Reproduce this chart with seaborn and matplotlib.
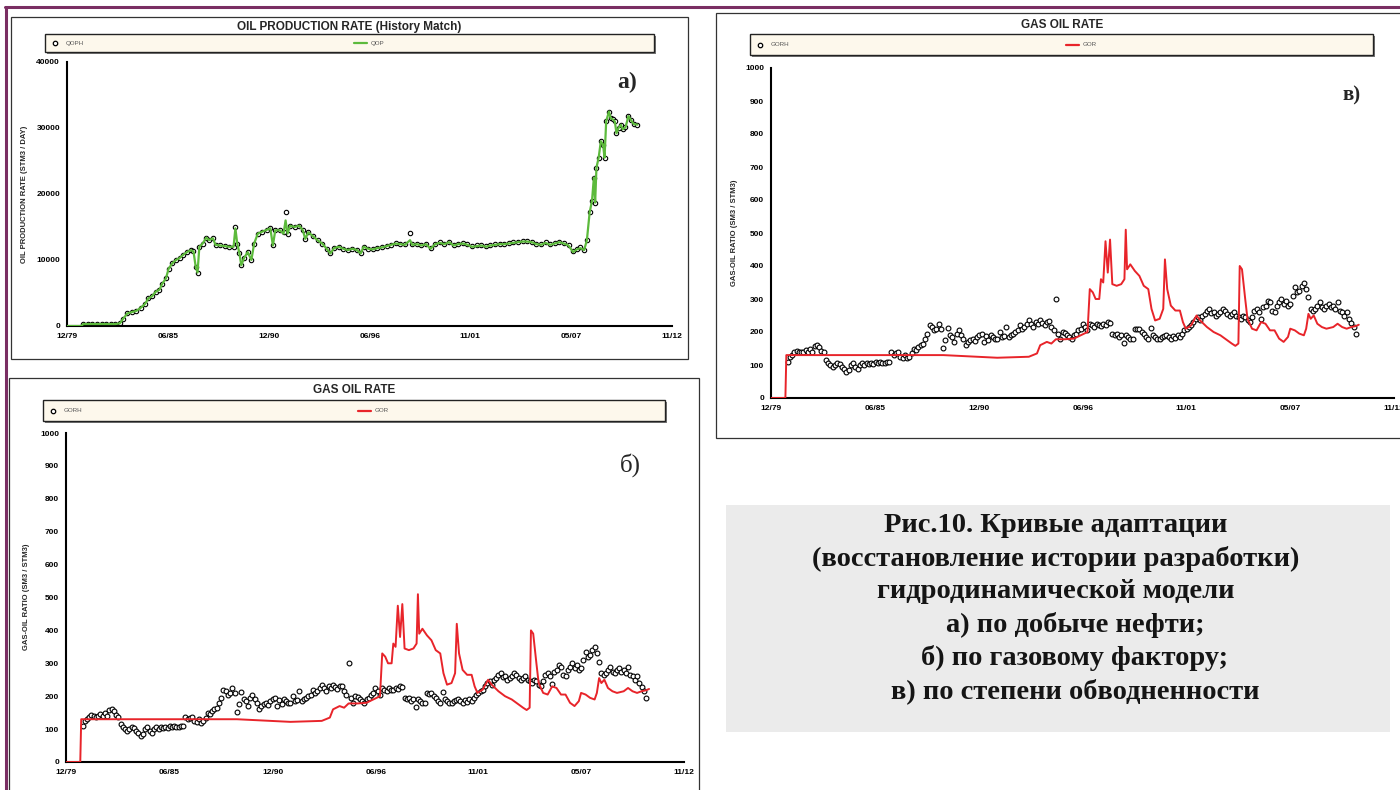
import numpy as np
import matplotlib
matplotlib.use('Agg')
from matplotlib import pyplot as plt
from matplotlib.patches import Rectangle
import seaborn as sns

sns.set_theme(style='white')
plt.rcParams['font.family'] = ['Liberation Sans', 'DejaVu Sans']

W, H = 1400, 790

# общая ось времени (годы)
tick_years = [1979.92, 1985.42, 1990.92, 1996.42, 2001.83, 2007.33, 2012.83]
tick_labels = ['12/79', '06/85', '12/90', '06/96', '11/01', '05/07', '11/12']

# добыча нефти: история (QOPH) и расчёт (QOP)
qop_years = [1979.92, 1980.70, 1980.80, 1981.05, 1981.30, 1981.55, 1981.80, 1982.05, 1982.30, 1982.55,
             1982.80, 1982.95, 1983.20, 1983.45, 1983.70, 1983.95, 1984.15, 1984.35, 1984.55, 1984.75,
             1984.95, 1985.10, 1985.30, 1985.45, 1985.65, 1985.85, 1986.05, 1986.25, 1986.45, 1986.65,
             1986.80, 1986.92, 1987.02, 1987.12, 1987.30, 1987.50, 1987.65, 1987.85, 1988.00, 1988.25,
             1988.50, 1988.75, 1988.98, 1989.08, 1989.18, 1989.30, 1989.40, 1989.55, 1989.75, 1989.95,
             1990.10, 1990.30, 1990.55, 1990.80, 1990.98, 1991.12, 1991.25, 1991.50, 1991.70, 1991.81,
             1991.92, 1992.05, 1992.30, 1992.55, 1992.75, 1992.88, 1993.05, 1993.30, 1993.55, 1993.80,
             1994.05, 1994.25, 1994.45, 1994.70, 1994.95, 1995.20, 1995.45, 1995.70, 1995.90, 1996.05,
             1996.30, 1996.55, 1996.80, 1997.05, 1997.30, 1997.55, 1997.80, 1998.05, 1998.30, 1998.58,
             1998.70, 1998.95, 1999.20, 1999.45, 1999.70, 1999.95, 2000.20, 2000.45, 2000.70, 2000.95,
             2001.20, 2001.45, 2001.70, 2001.95, 2002.20, 2002.45, 2002.70, 2002.95, 2003.20, 2003.45,
             2003.70, 2003.95, 2004.20, 2004.45, 2004.70, 2004.95, 2005.20, 2005.45, 2005.70, 2005.95,
             2006.20, 2006.45, 2006.70, 2006.95, 2007.20, 2007.45, 2007.65, 2007.85, 2008.05, 2008.20,
             2008.35, 2008.48, 2008.58, 2008.65, 2008.72, 2008.84, 2008.96, 2009.08, 2009.16, 2009.25,
             2009.40, 2009.49, 2009.62, 2009.72, 2009.81, 2009.92, 2010.05, 2010.15, 2010.30, 2010.46,
             2010.60, 2010.75, 2010.95]
qoph = [np.nan, np.nan, 300, 300, 300, 300, 300, 300, 300, 300,
        400, 1000, 1900, 2100, 2300, 2800, 3300, 4200, 4500, 5200,
        5500, 6400, 7200, 8700, 9500, 10000, 10300, 10800, 11200, 11500,
        11300, 9000, 8100, 12000, 12500, 13400, 13000, 13300, 12300, 12200,
        12100, 12000, 12000, 15000, 12500, 11000, 9200, 10300, 11200, 10000,
        12500, 14000, 14300, 14600, 14800, 12200, 14500, 14500, 14200, 17300,
        14000, 15200, 15000, 15200, 14500, 13200, 14200, 13600, 13000, 12500,
        11700, 11000, 11800, 12000, 11700, 11500, 11700, 11500, 11000, 12000,
        11700, 11600, 11800, 11900, 12100, 12300, 12600, 12500, 12400, 14100,
        12400, 12500, 12300, 12500, 11800, 12500, 12700, 12500, 12800, 12300,
        12500, 12600, 12400, 12100, 12200, 12300, 12100, 12300, 12400, 12500,
        12500, 12600, 12700, 12800, 12900, 12900, 12800, 12500, 12400, 12700,
        12400, 12600, 12800, 12600, 12300, 11400, 11700, 11900, 11500, 13000,
        17200, 19000, 22500, 18700, 24000, 25500, 28000, 27500, 25500, 31000,
        32500, 31500, 31300, 31000, 29200, 30000, 30500, 29800, 30100, 31800,
        31200, 30600, 30500]
qop = [0, 0, 300, 300, 300, 300, 300, 300, 300, 300,
       400, 1000, 1900, 2100, 2300, 2800, 3300, 4200, 4500, 5200,
       5500, 6400, 7200, 8700, 9500, 10000, 10300, 10800, 11200, 11500,
       11300, 9000, 8100, 12000, 12500, 13400, 13000, 13300, 12300, 12200,
       12100, 12000, 12000, 14800, 12500, 11000, 9200, 10300, 11200, 10000,
       12500, 14000, 14300, 14600, 14800, 12200, 14500, 14500, 14000, 16000,
       14000, 15200, 15000, 15200, 14500, 13200, 14200, 13600, 13000, 12500,
       11700, 11000, 11800, 12000, 11700, 11500, 11700, 11500, 11000, 12000,
       11700, 11600, 11800, 11900, 12100, 12300, 12500, 12400, 12300, 13000,
       12300, 12400, 12200, 12400, 11700, 12400, 12600, 12400, 12700, 12200,
       12400, 12500, 12300, 12000, 12100, 12200, 12000, 12200, 12300, 12400,
       12400, 12500, 12600, 12700, 12800, 12800, 12700, 12400, 12300, 12600,
       12300, 12500, 12700, 12500, 12200, 11200, 11600, 11800, 11500, 13000,
       17200, 19000, 22500, 18700, 24000, 25500, 28000, 27500, 25500, 31000,
       32500, 31500, 31300, 31000, 29200, 30000, 30500, 29800, 30100, 31800,
       31200, 30600, 30500]

# газовый фактор: история (GORH), замеры с 10/80 по 10/10
gorh_start, gorh_end = 1980.80, 2010.81
gorh = [108, 125, 130, 138, 143, 140, 138, 140, 145, 140,
        148, 140, 158, 162, 155, 143, 138, 115, 105, 100,
        95, 100, 105, 102, 95, 88, 80, 85, 100, 105,
        95, 88, 100, 105, 100, 105, 102, 105, 103, 108,
        105, 110, 107, 105, 108, 110, 138, 130, 135, 138,
        125, 122, 130, 120, 125, 135, 150, 145, 155, 160,
        165, 180, 195, 220, 215, 205, 210, 225, 210, 152,
        175, 212, 190, 185, 170, 195, 205, 190, 178, 160,
        170, 175, 180, 172, 185, 190, 195, 170, 188, 175,
        190, 185, 180, 178, 200, 185, 188, 215, 185, 190,
        195, 200, 205, 220, 210, 215, 225, 235, 225, 215,
        230, 225, 235, 228, 222, 230, 232, 215, 205, 300,
        195, 180, 200, 198, 190, 185, 180, 190, 195, 205,
        210, 225, 215, 205, 225, 220, 215, 225, 220, 218,
        225, 222, 230, 228, 195, 190, 195, 185, 190, 168,
        192, 185, 180, 180, 210, 208, 210, 200, 195, 185,
        178, 212, 190, 185, 180, 178, 185, 188, 190, 185,
        180, 188, 182, 190, 185, 195, 205, 210, 215, 220,
        230, 240, 245, 235, 250, 255, 265, 270, 258, 260,
        248, 255, 262, 270, 265, 255, 250, 255, 260, 250,
        245, 240, 250, 245, 235, 230, 245, 265, 270, 260,
        238, 275, 280, 295, 290, 265, 260, 280, 290, 300,
        285, 295, 280, 285, 310, 335, 320, 325, 340, 350,
        330, 305, 270, 265, 270, 280, 290, 275, 270, 280,
        285, 275, 280, 270, 290, 265, 260, 250, 260, 240,
        228, 215, 195]

# газовый фактор: расчёт (GOR)
gor_years = [1979.92, 1980.68, 1980.73, 1989.02, 1991.87, 1993.54, 1993.97, 1994.14, 1994.49, 1994.73,
             1994.97, 1995.45, 1995.92, 1996.28, 1996.64, 1996.76, 1996.92, 1997.07, 1997.26, 1997.35,
             1997.47, 1997.59, 1997.71, 1997.83, 1997.95, 1998.18, 1998.42, 1998.59, 1998.66, 1998.73,
             1998.90, 1999.14, 1999.38, 1999.61, 1999.85, 2000.02, 2000.21, 2000.45, 2000.64, 2000.73,
             2000.85, 2001.04, 2001.28, 2001.52, 2001.68, 2001.83, 2002.11, 2002.40, 2002.59, 2002.95,
             2003.30, 2003.66, 2004.02, 2004.26, 2004.45, 2004.61, 2004.68, 2004.80, 2004.97, 2005.09,
             2005.33, 2005.57, 2005.81, 2006.04, 2006.28, 2006.52, 2006.76, 2007.00, 2007.23, 2007.35,
             2007.59, 2007.83, 2008.07, 2008.19, 2008.31, 2008.43, 2008.59, 2008.78, 2009.02, 2009.26,
             2009.62, 2009.85, 2010.09, 2010.33, 2010.57, 2010.81, 2010.97]
gor = [0, 0, 130, 130, 122, 125, 135, 160, 170, 165,
       178, 178, 180, 190, 200, 330, 320, 300, 300, 360,
       350, 475, 380, 480, 345, 340, 345, 360, 510, 390,
       405, 385, 370, 340, 330, 270, 235, 240, 270, 420,
       330, 280, 265, 265, 230, 210, 220, 250, 235, 215,
       200, 190, 175, 165, 158, 165, 400, 390, 300, 240,
       210, 205, 230, 225, 205, 205, 180, 170, 185, 210,
       205, 195, 190, 210, 255, 240, 250, 225, 215, 210,
       215, 225, 215, 210, 215, 218, 222]

caption = ['Рис.10. Кривые адаптации',
           '(восстановление истории разработки)',
           'гидродинамической модели',
           'а) по добыче нефти;',
           'б) по газовому фактору;',
           'в) по степени обводненности']

GREEN = '#5cba3c'
RED = '#e8242a'
PURPLE = '#7a2e63'
CREAM = '#fdf8ec'

fig = plt.figure(figsize=(14, 7.9), dpi=100)

# фон в пиксельных координатах: рамки, легенды, подписи
bg = fig.add_axes([0, 0, 1, 1])
bg.set_xlim(0, W)
bg.set_ylim(H, 0)
bg.axis('off')


def box(x0, y0, x1, y1, **kw):
    bg.add_patch(Rectangle((x0, y0), x1 - x0, y1 - y0, **kw))


def px_axes(x0, y0, x1, y1):
    ax = fig.add_axes([x0 / W, 1 - y1 / H, (x1 - x0) / W, (y1 - y0) / H])
    ax.set_facecolor('none')
    return ax


def style_axes(ax, ymax, ymajor, yminor):
    ax.set_xlim(tick_years[0], tick_years[-1])
    ax.set_ylim(0, ymax)
    ax.set_xticks(tick_years)
    ax.set_xticklabels(tick_labels)
    mids = [(a + b) / 2 for a, b in zip(tick_years[:-1], tick_years[1:])]
    ax.set_xticks(mids, minor=True)
    ax.set_yticks(np.arange(0, ymax + 1, ymajor))
    ax.set_yticks(np.arange(0, ymax + 1, yminor), minor=True)
    for s in ['top', 'right']:
        ax.spines[s].set_visible(False)
    for s in ['left', 'bottom']:
        ax.spines[s].set_color('black')
        ax.spines[s].set_linewidth(1.5)
    ax.tick_params(which='major', length=4, width=1, direction='out', labelsize=6, pad=1, colors='black')
    ax.tick_params(which='minor', length=3, width=1, direction='out', colors='black')
    ax.tick_params(axis='x', which='minor', direction='in')
    for lab in ax.get_xticklabels() + ax.get_yticklabels():
        lab.set_fontweight('bold')
    ax.set_xlabel('')
    ax.set_ylabel('')
    ax.grid(False)


def legend_box(x0, y0, x1, y1, hist_name, sim_name, sim_color, sim_x):
    box(x0 + 2, y0 + 2, x1 + 2, y1 + 2, facecolor='#777777', edgecolor='none')
    box(x0, y0, x1, y1, facecolor=CREAM, edgecolor='#222222', lw=1.0)
    yc = (y0 + y1) / 2
    bg.plot([x0 + 10], [yc], 'o', mfc='white', mec='black', ms=3.2, mew=0.9)
    bg.text(x0 + 21, yc, hist_name, fontsize=4.5, color='#555555', va='center')
    bg.plot([sim_x, sim_x + 13], [yc, yc], color=sim_color, lw=1.6)
    bg.text(sim_x + 17, yc, sim_name, fontsize=4.5, color='#555555', va='center')


# фиолетовая рамка страницы
bg.plot([5, W], [7, 7], color=PURPLE, lw=2.2)
bg.plot([6, 6], [7, H], color=PURPLE, lw=2.2)

# рамки панелей
box(11, 17, 688, 359, facecolor='white', edgecolor='#333333', lw=0.9)
box(9, 378, 699, 800, facecolor='white', edgecolor='#333333', lw=0.9)
box(716, 13, 1410, 438, facecolor='white', edgecolor='#333333', lw=0.9)

# подпись рисунка
box(726, 505, 1390, 732, facecolor='#ebebeb', edgecolor='none')
cap_y = [526, 559, 592, 625, 658, 691]
cap_x = [1056, 1056, 1056, 1075, 1075, 1075]
for t, x, y in zip(caption, cap_x, cap_y):
    bg.text(x, y, t, ha='center', va='center', fontsize=20.5, fontweight='bold',
            family=['Liberation Serif', 'DejaVu Serif'], color='#151515')

# ---- а) добыча нефти
bg.text(349, 27, 'OIL PRODUCTION RATE (History Match)', ha='center', va='center', fontsize=8.5, fontweight='bold')
legend_box(45, 34, 654, 52, 'QOPH', 'QOP', GREEN, 354)
bg.text(25, 194, 'OIL PRODUCTION RATE (STM3 / DAY)', rotation=90, ha='center', va='center', fontsize=5.5, fontweight='bold')
bg.text(627, 82, 'a)', ha='center', va='center', fontsize=17, fontweight='bold', family=['Liberation Serif'])

ax_a = px_axes(67, 62, 672, 326)
sns.scatterplot(x=qop_years, y=qoph, ax=ax_a, marker='o', s=10, color='white', edgecolor='black', linewidth=0.8, zorder=2)
sns.lineplot(x=qop_years, y=qop, ax=ax_a, color=GREEN, lw=1.6, estimator=None, sort=False, zorder=3)
style_axes(ax_a, 40000, 10000, 5000)

# ---- б) и в) газовый фактор
gorh_years = np.linspace(gorh_start, gorh_end, len(gorh))


def gor_panel(ax_px, title_xy, leg, sim_x, ylab_xy, tag, tag_xy, tag_kw):
    bg.text(title_xy[0], title_xy[1], 'GAS OIL RATE', ha='center', va='center', fontsize=8.5, fontweight='bold')
    legend_box(*leg, 'GORH', 'GOR', RED, sim_x)
    bg.text(ylab_xy[0], ylab_xy[1], 'GAS-OIL RATIO (SM3 / STM3)', rotation=90, ha='center', va='center',
            fontsize=5.5, fontweight='bold')
    bg.text(tag_xy[0], tag_xy[1], tag, ha='center', va='center', family=['Liberation Serif'], **tag_kw)
    ax = px_axes(*ax_px)
    sns.scatterplot(x=gorh_years, y=gorh, ax=ax, marker='o', s=12, color='white', edgecolor='black', linewidth=0.8, zorder=2)
    sns.lineplot(x=gor_years, y=gor, ax=ax, color=RED, lw=1.4, estimator=None, sort=False, zorder=3)
    style_axes(ax, 1000, 100, 50)
    return ax


gor_panel((66, 433, 684, 762), (354, 390), (43, 400, 665, 421), 358, (27, 597),
          'б)', (630, 465), dict(fontsize=18))
gor_panel((771, 68, 1394, 398), (1062, 25), (750, 34, 1373, 55), 1066, (735, 233),
          'в)', (1352, 95), dict(fontsize=15, fontweight='bold'))

fig.savefig('out.png', dpi=100)
